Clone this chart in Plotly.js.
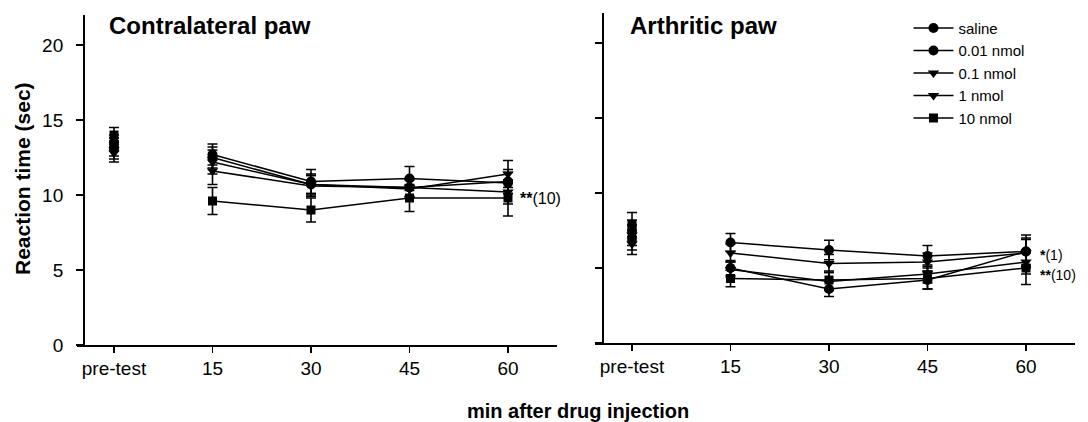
<!DOCTYPE html>
<html>
<head>
<meta charset="utf-8">
<script src="https://cdn.plot.ly/plotly-3.0.1.min.js"></script>
<style>html,body{margin:0;padding:0;background:#fff;}#chart{width:1088px;height:422px;}</style>
</head>
<body>
<div id="chart"></div>
<script>
// ---- data ----
const categories = ["pre-test", "15", "30", "45", "60"];
const seriesNames = ["saline", "0.01 nmol", "0.1 nmol", "1 nmol", "10 nmol"];
const seriesSymbols = ["circle", "circle", "triangle-down", "triangle-down", "square"];

// Contralateral paw (mean, SEM)
const contraSaline = [13.2, 12.7, 10.9, 11.1, 10.8];
const contra001    = [13.5, 12.5, 10.7, 10.5, 10.9];
const contra01     = [12.8, 12.2, 10.7, 10.4, 11.4];
const contra1      = [13.0, 11.6, 10.6, 10.5, 10.2];
const contra10     = [14.0,  9.6,  9.0,  9.8,  9.8];
const contraSalineErr = [0.6, 0.7, 0.8, 0.8, 0.7];
const contra001Err    = [0.5, 0.7, 0.7, 0.6, 0.8];
const contra01Err     = [0.6, 0.8, 0.6, 0.6, 0.9];
const contra1Err      = [0.6, 0.9, 0.7, 0.6, 0.8];
const contra10Err     = [0.5, 0.9, 0.8, 0.9, 1.2];

// Arthritic paw (mean, SEM)
const arthSaline = [7.0, 5.0, 3.6, 4.2, 6.1];
const arth001    = [7.5, 6.7, 6.2, 5.8, 6.1];
const arth01     = [6.6, 4.9, 4.1, 4.6, 5.4];
const arth1      = [7.2, 6.0, 5.3, 5.4, 6.0];
const arth10     = [7.9, 4.3, 4.2, 4.3, 5.0];
const arthSalineErr = [0.8, 0.5, 0.5, 0.6, 0.9];
const arth001Err    = [0.7, 0.6, 0.65, 0.7, 1.1];
const arth01Err     = [0.7, 0.5, 0.6, 0.6, 0.8];
const arth1Err      = [0.7, 0.6, 0.6, 0.6, 0.9];
const arth10Err     = [0.8, 0.55, 0.6, 0.7, 1.1];

const panelTitles = ["Contralateral paw", "Arthritic paw"];
const yTicks = [0, 5, 10, 15, 20];
const sigLeft = [{stars: "**", dose: "(10)", y: 9.8}];
const sigRight = [{stars: "*", dose: "(1)", y: 5.85}, {stars: "**", dose: "(10)", y: 4.55}];

// ---- build ----
const FONT = "Liberation Sans, Arial, Helvetica, sans-serif";
const contra = [contraSaline, contra001, contra01, contra1, contra10];
const contraErr = [contraSalineErr, contra001Err, contra01Err, contra1Err, contra10Err];
const arth = [arthSaline, arth001, arth01, arth1, arth10];
const arthErr = [arthSalineErr, arth001Err, arth01Err, arth1Err, arth10Err];

function sizeFor(sym){ return sym === "square" ? 9 : 10; }

const traces = [];
[[contra, contraErr, "x", "y", true], [arth, arthErr, "x2", "y2", false]].forEach(([vals, errs, xa, ya, leg]) => {
  vals.forEach((v, i) => {
    const mk = {symbol: seriesSymbols[i], size: sizeFor(seriesSymbols[i]), color: "#000"};
    // pre-test point (not connected)
    traces.push({
      type: "scatter", mode: "markers",
      x: categories.slice(0, 1), y: v.slice(0, 1), xaxis: xa, yaxis: ya,
      name: seriesNames[i], showlegend: false,
      marker: mk,
      error_y: {type: "data", array: errs[i].slice(0, 1), visible: true, color: "#000", thickness: 1.6, width: 5}
    });
    // post-injection time course
    traces.push({
      type: "scatter", mode: "lines+markers",
      x: categories.slice(1), y: v.slice(1), xaxis: xa, yaxis: ya,
      name: seriesNames[i], showlegend: leg,
      line: {color: "#000", width: 1.5},
      marker: mk,
      error_y: {type: "data", array: errs[i].slice(1), visible: true, color: "#000", thickness: 1.6, width: 5}
    });
  });
});

function xAxis(dom){
  return {domain: dom, type: "category", categoryorder: "array", categoryarray: categories,
    range: [-0.3756, 4.4975], showline: true, linecolor: "#000", linewidth: 1.5,
    ticks: "outside", ticklen: 6, tickwidth: 1.5, tickcolor: "#000",
    tickfont: {family: FONT, size: 19, color: "#000"},
    showgrid: false, zeroline: false, fixedrange: true};
}
function yAxis(dom, pos, labels){
  return {domain: dom, range: [0, 22], anchor: "free", position: pos,
    tickvals: yTicks, ticktext: yTicks.map(String), showticklabels: labels,
    showline: true, linecolor: "#000", linewidth: 1.5,
    ticks: "outside", ticklen: 7, tickwidth: 1.5, tickcolor: "#000",
    tickfont: {family: FONT, size: 19, color: "#000"}, ticklabelstandoff: 9,
    showgrid: false, zeroline: false, fixedrange: true};
}

const lastIdx = categories.length - 1;
const sigAnn = [];
sigLeft.forEach(s => sigAnn.push({xref: "x", yref: "y", x: lastIdx, y: s.y, xanchor: "left", yanchor: "middle", xshift: 10,
  text: "<b>" + s.stars + "</b>" + s.dose, showarrow: false, font: {family: FONT, size: 16, color: "#000"}}));
sigRight.forEach(s => sigAnn.push({xref: "x2", yref: "y2", x: lastIdx, y: s.y, xanchor: "left", yanchor: "middle", xshift: 12,
  text: "<b>" + s.stars + "</b>" + s.dose, showarrow: false, font: {family: FONT, size: 14, color: "#000"}}));

const layout = {
  width: 1088, height: 422,
  margin: {l: 0, r: 0, t: 0, b: 0},
  paper_bgcolor: "#fff", plot_bgcolor: "rgba(0,0,0,0)",
  font: {family: FONT, color: "#000"},
  xaxis: Object.assign(xAxis([0.07077, 0.51195]), {anchor: "y"}),
  yaxis: yAxis([0.18246, 0.96445], 0.07629, true),
  xaxis2: Object.assign(xAxis([0.54688, 0.98805]), {anchor: "y2"}),
  yaxis2: yAxis([0.18720, 0.96919], 0.55331, false),
  showlegend: true,
  legend: {x: 0.835, y: 0.972, xanchor: "left", yanchor: "top",
    font: {family: FONT, size: 15, color: "#000"}, bgcolor: "rgba(0,0,0,0)",
    tracegroupgap: 0, itemwidth: 40},
  annotations: [
    {xref: "paper", yref: "paper", x: 107/1088, y: 1 - 25/422, xanchor: "left", yanchor: "middle",
     text: "<b>" + panelTitles[0] + "</b>", showarrow: false, font: {family: FONT, size: 24, color: "#000"}},
    {xref: "paper", yref: "paper", x: 628/1088, y: 1 - 25/422, xanchor: "left", yanchor: "middle",
     text: "<b>" + panelTitles[1] + "</b>", showarrow: false, font: {family: FONT, size: 24, color: "#000"}},
    {xref: "paper", yref: "paper", x: 22/1088, y: 1 - 179/422, xanchor: "center", yanchor: "middle",
     text: "<b>Reaction time (sec)</b>", textangle: -90, showarrow: false, font: {family: FONT, size: 21, color: "#000"}},
    {xref: "paper", yref: "paper", x: 578/1088, y: 1 - 411/422, xanchor: "center", yanchor: "middle",
     text: "<b>min after drug injection</b>", showarrow: false, font: {family: FONT, size: 20, color: "#000"}}
  ].concat(sigAnn)
};

Plotly.newPlot("chart", traces, layout, {staticPlot: true, displayModeBar: false});
</script>
</body>
</html>
